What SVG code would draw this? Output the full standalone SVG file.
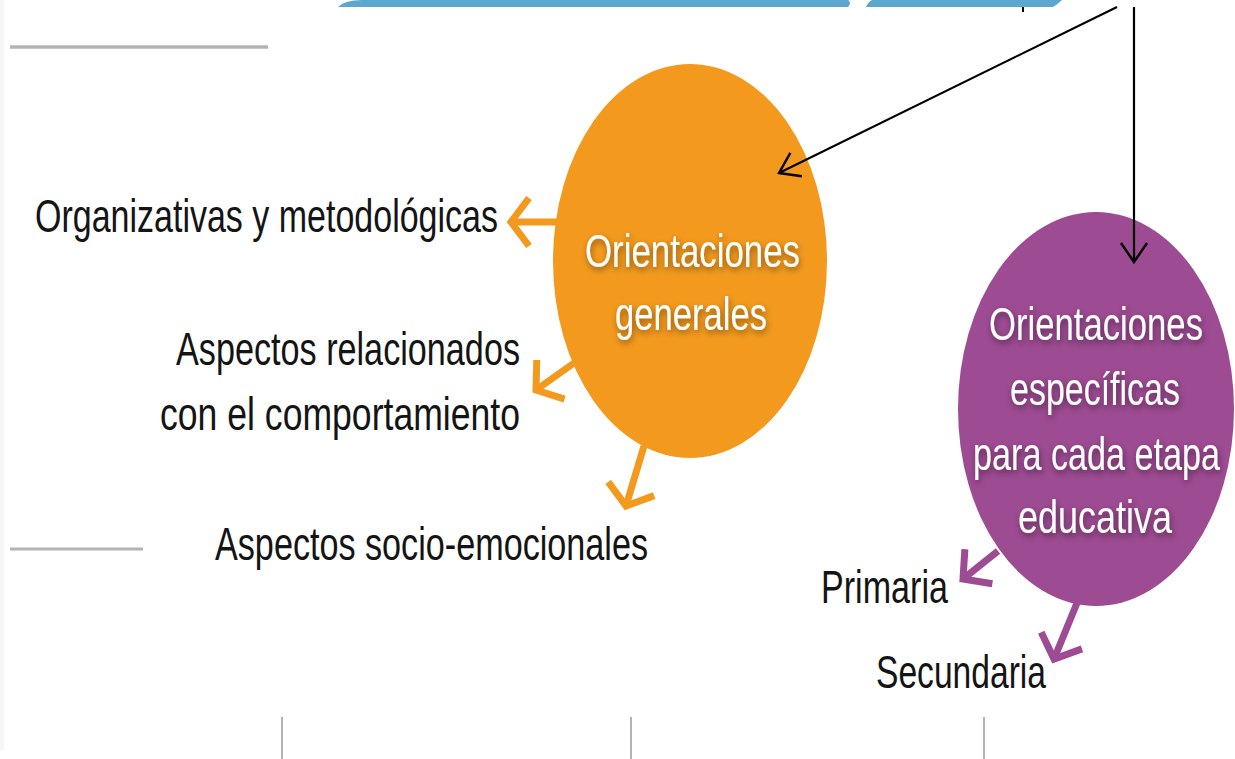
<svg xmlns="http://www.w3.org/2000/svg" width="1235" height="759" viewBox="0 0 1235 759">
<style>
.lbl{font-family:"Liberation Sans",Arial,sans-serif;font-size:46px;fill:#141414}
.in{font-family:"Liberation Sans",Arial,sans-serif;font-size:46px;fill:#ffffff}
.gray{stroke:#b3b3b3;fill:none}
.oa{stroke:#F39A1E;stroke-width:7;fill:none}
.pa{stroke:#9D4B92;stroke-width:7;fill:none}
.ba{stroke:#000;stroke-width:2.2;fill:none}
</style>
<defs>
<filter id="sh" x="-10%" y="-30%" width="120%" height="160%">
<feDropShadow dx="1" dy="3" stdDeviation="3" flood-color="#000" flood-opacity="0.45"/>
</filter>
<marker id="mo" viewBox="0 0 40 60" refX="30" refY="30" markerWidth="40" markerHeight="60" markerUnits="userSpaceOnUse" orient="auto">
<path d="M12,6 L30,30 L12,54" fill="none" stroke="#F39A1E" stroke-width="7"/>
</marker>
<marker id="mp" viewBox="0 0 40 60" refX="30" refY="30" markerWidth="40" markerHeight="60" markerUnits="userSpaceOnUse" orient="auto">
<path d="M10,8 L30,30 L10,52" fill="none" stroke="#9D4B92" stroke-width="7"/>
</marker>
<marker id="mb" viewBox="0 0 24 32" refX="21" refY="16" markerWidth="24" markerHeight="32" markerUnits="userSpaceOnUse" orient="auto">
<path d="M2,3 L21,16 L2,29" fill="none" stroke="#000" stroke-width="2.4"/>
</marker>
</defs>
<rect width="1235" height="759" fill="#fff"/>
<rect x="0" y="0" width="4" height="750" fill="#f6f6f6"/>
<g id="top-band">
<path d="M338,7 Q345,0 362,0 L848,0 Q852,3 848,7 Z" fill="#5BA7CF"/>
<path d="M866,7 Q868,2 872,0 L1062,0 Q1058,4 1053,7 Z" fill="#5BA7CF"/>
<line x1="1023" y1="7" x2="1023" y2="12" stroke="#000" stroke-width="2"/>
</g>
<g id="frame-lines">
<line class="gray" x1="10" y1="47" x2="268" y2="47" stroke-width="3.5"/>
<line class="gray" x1="10" y1="549" x2="143" y2="549" stroke-width="3"/>
<line class="gray" x1="282" y1="717" x2="282" y2="759" stroke-width="2"/>
<line class="gray" x1="631" y1="717" x2="631" y2="759" stroke-width="2"/>
<line class="gray" x1="984" y1="717" x2="984" y2="759" stroke-width="2"/>
</g>
<g id="node-generales">
<ellipse cx="690" cy="261" rx="137" ry="197" fill="#F39A1E"/>
<g filter="url(#sh)">
<text class="in" x="585" y="267" textLength="215" lengthAdjust="spacingAndGlyphs">Orientaciones</text>
<text class="in" x="615" y="330" textLength="152" lengthAdjust="spacingAndGlyphs">generales</text>
</g>
</g>
<g id="node-especificas">
<ellipse cx="1096" cy="409" rx="138" ry="197" fill="#9D4B92"/>
<g filter="url(#sh)">
<text class="in" x="989" y="340" textLength="214" lengthAdjust="spacingAndGlyphs">Orientaciones</text>
<text class="in" x="1010" y="405" textLength="170" lengthAdjust="spacingAndGlyphs">específicas</text>
<text class="in" x="973" y="470" textLength="247" lengthAdjust="spacingAndGlyphs">para cada etapa</text>
<text class="in" x="1018" y="533" textLength="154" lengthAdjust="spacingAndGlyphs">educativa</text>
</g>
</g>
<g id="node-organizativas"><text class="lbl" x="35" y="232" textLength="463" lengthAdjust="spacingAndGlyphs">Organizativas y metodológicas</text></g>
<g id="node-comportamiento">
<text class="lbl" x="176" y="365" textLength="344" lengthAdjust="spacingAndGlyphs">Aspectos relacionados</text>
<text class="lbl" x="160" y="430" textLength="360" lengthAdjust="spacingAndGlyphs">con el comportamiento</text>
</g>
<g id="node-socioemocionales"><text class="lbl" x="215" y="560" textLength="433" lengthAdjust="spacingAndGlyphs">Aspectos socio-emocionales</text></g>
<g id="node-primaria"><text class="lbl" x="821" y="603" textLength="127" lengthAdjust="spacingAndGlyphs">Primaria</text></g>
<g id="node-secundaria"><text class="lbl" x="876" y="688" textLength="170" lengthAdjust="spacingAndGlyphs">Secundaria</text></g>
<g id="connectors">
<line class="ba" x1="1117" y1="7" x2="779" y2="173" marker-end="url(#mb)"/>
<line class="ba" x1="1134" y1="7" x2="1134" y2="262" marker-end="url(#mb)"/>
<line class="oa" x1="558" y1="222" x2="511" y2="222" marker-end="url(#mo)"/>
<line class="oa" x1="574" y1="363" x2="536" y2="390" marker-end="url(#mo)"/>
<line class="oa" x1="644" y1="446" x2="626" y2="506" marker-end="url(#mo)"/>
<line class="pa" x1="998" y1="551" x2="963" y2="579" marker-end="url(#mp)"/>
<line class="pa" x1="1077" y1="603" x2="1054" y2="659" marker-end="url(#mp)"/>
</g>
</svg>
